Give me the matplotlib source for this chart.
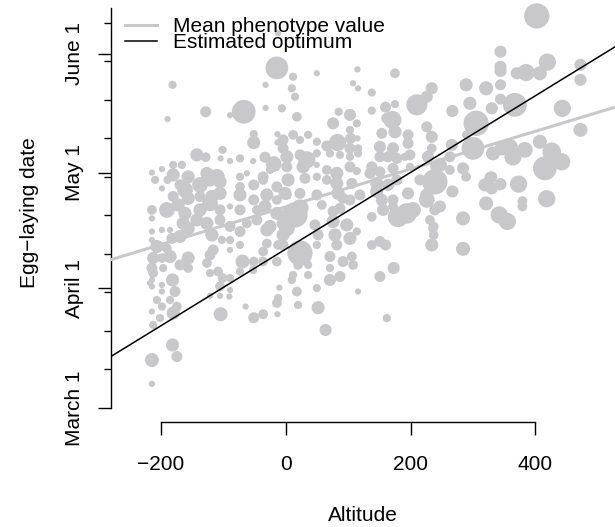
import matplotlib
matplotlib.use("Agg")
import matplotlib.pyplot as plt
import numpy as np

# ---- data (altitude in m, egg-laying day of year, number of broods per point) ----
altitude = [
    -214, -214, -181, -174, -212, -201, -180, -174, -198, -185, -206, -177, -181, -198, -198, -214, -214,
    -156, -156, -169, -185, -198, -212, -214, -212, -196, -206, -190, -182, -169, -156, -185, -198, -214,
    -214, -214, -214, -190, -172, -161, -214, -198, -180, -166, -209, -180, -156, -189, -198, -169, -161,
    -180, -156, -164, -181, -189, -142, -214, -217,
    -128, -89, -67, -128, -101, -104, -89, -73, -126, -110, -73, -62, -137, -121, -105, -73, -137, -118,
    -105, -73, -137, -121, -105, -89, -73, -142, -126, -105, -89, -62, -118, -102, -89, -73, -116, -89,
    -121, -126, -108, -121, -101, -89, -105, -89, -121, -105, -90, -104, -73, -69, -73, -64, -52,
    -51, -36, -36, -30, -14, -12, -4, -30, -51, -51, -13, -13, -4, -52, -33, -19, -36, -25, -51, -36,
    -14, -51, -30, -14, 2, -46, -33, -14, 2, -46, -25, -4, -51, -36, -13, -14, -12, -10, -32, -32, -6,
    -14, -12,
    12, 50, 10, 15, 18, 36, 12, -4, 23, 50, 66, 83, 2, 34, 23, 50, 71, 87, 2, 28, 50, 66, 82, 4, 31, 50,
    66, 82, -1, 23, 50, 84, 15, 23, 2, -4, 23, 20, 36, 12, 36, 10, 18, 20, 50, 52, 64, 47, 52, 50, 58,
    76, 87, 76, 79, 82, 71, 71, 71, 87, 76, 85, 103, 114, 103,
    104, 115, 103, 116, 103, 116, 103, 114, 106, 119, 92, 103, 98, 103, 114, 92, 106, 108, 116, 115,
    108, 116, 138, 175, 138, 160, 175, 171, 162, 175, 154, 151, 172, 151, 164, 178, 196, 196, 191,
    138, 135, 151, 172, 199, 146, 164, 178, 146, 154, 172, 196, 156, 138, 194, 180, 172, 204, 226,
    239, 237, 237, 234, 138, 151, 160, 173, 151, 162, 210, 226, 234, 226, 234, 234, 215, 234, 226,
    228, 247, 263, 239, 231, 236, 199,
    402, 344, 344, 344, 370, 385, 407, 419, 472, 472, 289, 321, 344, 344, 295, 330, 367, 443, 267,
    305, 289, 472, 300, 266, 332, 346, 359, 364, 383, 407, 426, 442, 415, 284, 263, 330, 242, 267,
    289, 319, 330, 328, 344, 373, 418, 379, 379, 321, 342, 355, 284, 284, 247,
]

laying_day = [
    66.2, 72.4, 76.3, 73.3, 81.5, 83.3, 84.6, 86.3, 86.3, 88.0, 88.0, 90.2, 93.2, 91.9, 90.2, 91.5, 93.2,
    98.9, 96.3, 97.1, 99.3, 98.9, 98.9, 96.3, 95.0, 96.3, 101.9, 101.4, 104.0, 104.5, 106.6, 106.2, 106.2, 105.8,
    103.6, 111.4, 109.2, 111.4, 112.7, 110.5, 121.1, 122.0, 123.1, 123.1, 119.2, 120.5, 120.0, 119.2, 117.0, 117.9, 116.6,
    114.9, 114.4, 107.9, 143.9, 135.0, 125.7, 85.0, 92.4,
    136.9, 136.0, 136.9, 125.1, 127.0, 124.8, 124.1, 124.8, 120.9, 120.0, 120.0, 120.9, 117.9, 119.2, 118.7, 117.4, 114.9, 114.9,
    115.7, 115.3, 111.4, 113.1, 111.4, 112.3, 111.4, 108.8, 107.9, 108.8, 107.1, 107.9, 104.9, 103.6, 103.6, 105.8, 101.0, 101.0,
    99.7, 97.6, 95.4, 95.0, 93.7, 93.7, 91.5, 90.6, 89.1, 89.1, 88.9, 84.3, 95.4, 98.0, 102.3, 86.3, 95.8,
    98.0, 98.0, 100.6, 102.7, 98.0, 102.3, 104.9, 106.2, 131.1, 128.9, 131.1, 128.9, 127.4, 124.1, 125.1, 123.3, 120.0, 121.8, 117.9, 119.2,
    117.4, 114.0, 115.3, 114.0, 115.3, 111.4, 112.3, 110.5, 110.5, 108.8, 107.1, 107.9, 83.4, 84.3, 84.3, 87.2, 88.5, 91.2, 143.9, 137.9, 137.8,
    148.3, 157.3,
    146.0, 146.9, 143.0, 140.8, 135.6, 130.9, 130.9, 129.6, 129.6, 129.1, 128.0, 128.9, 125.2, 124.4, 125.7, 126.1, 126.1, 125.7, 122.6, 122.6, 123.1, 121.8, 120.9, 119.2, 119.6, 120.0,
    119.2, 118.3, 115.7, 115.7, 115.3, 115.7, 110.1, 111.9, 106.6, 102.3, 100.2, 97.1, 97.1, 94.5, 94.5, 93.2, 90.2, 86.7, 91.1, 86.0, 80.2, 107.5, 104.9, 102.3, 112.7,
    111.0, 111.8, 108.4, 104.9, 102.3, 99.3, 96.3, 93.2, 94.1, 133.9, 136.9, 136.1, 133.9, 132.2,
    130.0, 130.0, 127.4, 127.4, 125.2, 126.1, 122.6, 121.5, 118.3, 115.3, 114.4, 114.0, 107.5, 104.0, 105.8, 98.0, 99.3, 97.1, 90.2, 147.9,
    144.3, 143.0, 141.9, 146.9, 137.2, 138.1, 138.9, 134.8, 135.2, 131.7, 131.3, 127.8, 127.4, 125.2, 125.2, 124.8, 130.9, 128.7, 125.2,
    122.6, 120.9, 121.3, 122.2, 122.6, 118.3, 117.9, 119.2, 116.2, 114.0, 112.3, 115.7, 111.4, 109.6, 110.5, 109.6, 114.0, 111.4, 114.0,
    111.4, 107.1, 104.9, 102.3, 102.3, 103.2, 102.3, 96.3, 94.1, 83.3, 138.7, 140.8, 143.0, 133.0, 130.4, 127.4, 119.2, 120.0, 115.3,
    125.2, 123.1, 121.8, 118.7, 108.8, 106.6, 125.7,
    161.8, 152.5, 148.6, 147.5, 146.9, 147.1, 146.9, 149.8, 149.1, 145.2, 143.9, 143.0, 143.9, 140.2, 139.1, 137.8, 138.7, 137.8, 137.1,
    133.9, 130.9, 132.2, 127.4, 128.3, 126.1, 127.4, 127.8, 125.2, 127.0, 129.1, 126.5, 123.9, 122.2, 122.2, 125.2, 120.0, 122.6, 116.2,
    120.0, 117.9, 117.0, 119.8, 118.1, 118.1, 114.3, 113.7, 112.3, 113.1, 110.1, 108.4, 109.2, 101.3, 112.3,
]

n_broods = [
    1, 7, 6, 4, 2, 2, 6, 3, 2, 2, 2, 4, 6, 1, 1, 1, 1,
    6, 3, 4, 6, 3, 5, 4, 3, 2, 6, 3, 4, 6, 6, 1, 1, 1,
    1, 3, 1, 9, 6, 6, 1, 1, 2, 2, 2, 6, 6, 2, 1, 4, 9,
    4, 6, 6, 2, 1, 6, 1, 1,
    4, 1, 22, 3, 2, 1, 1, 2, 6, 9, 2, 1, 9, 6, 6, 3, 4, 6,
    6, 6, 6, 9, 4, 1, 4, 6, 6, 4, 4, 3, 6, 2, 2, 4, 4, 1,
    4, 3, 3, 2, 3, 2, 3, 1, 1, 1, 1, 7, 2, 7, 2, 1, 2,
    3, 3, 3, 3, 3, 3, 6, 6, 2, 6, 1, 1, 4, 1, 4, 9, 4, 2, 4, 3,
    4, 4, 6, 3, 3, 3, 6, 6, 4, 4, 6, 6, 4, 3, 1, 3, 2, 1, 1, 1, 2,
    20, 1,
    2, 1, 2, 2, 3, 2, 3, 4, 2, 2, 4, 11, 6, 11, 4, 2, 2, 2, 4, 6, 1, 3, 6, 6, 4, 2,
    3, 6, 6, 4, 4, 6, 25, 11, 9, 4, 25, 3, 2, 2, 2, 2, 3, 2, 2, 6, 5, 4, 4, 2, 3,
    4, 4, 6, 6, 4, 4, 2, 5, 4, 5, 2, 5, 2, 2,
    4, 1, 4, 2, 2, 2, 4, 2, 4, 4, 4, 4, 6, 6, 2, 4, 3, 3, 1, 1,
    1, 1, 2, 3, 2, 4, 2, 12, 4, 6, 4, 5, 5, 4, 4, 4, 4, 4, 2,
    4, 4, 4, 4, 2, 6, 5, 4, 6, 5, 3, 5, 5, 3, 16, 16, 4, 9, 9,
    4, 3, 3, 6, 3, 4, 4, 5, 4, 2, 17, 5, 5, 4, 5, 3, 4, 6, 6,
    5, 7, 3, 25, 3, 3, 4,
    25, 5, 5, 5, 5, 11, 7, 11, 5, 5, 6, 7, 4, 4, 6, 5, 22, 11, 5,
    25, 2, 7, 20, 5, 7, 7, 9, 11, 9, 7, 13, 11, 22, 5, 4, 4, 6, 5,
    3, 6, 5, 5, 5, 11, 11, 3, 3, 7, 11, 11, 7, 7, 5,
]

month_days = [60, 91, 121, 152]
month_labels = ["March 1", "April 1", "May 1", "June 1"]
ten_day_ticks = list(range(60, 161, 10))
alt_ticks = [-200, 0, 200, 400]

# fitted lines: day = intercept + slope * altitude
mean_intercept, mean_slope = 112.2, 0.0491
opt_intercept, opt_slope = 101.2, 0.0997

GRAY = "#c8c8ca"

plt.rcParams["font.family"] = ["Liberation Sans", "DejaVu Sans"]
plt.rcParams["font.size"] = 15

fig = plt.figure(figsize=(6.15, 5.27), dpi=100)
ax = fig.add_axes([111 / 615, 105 / 527, 504 / 615, 422 / 527])
ax.set_xlim(-279.5, 527.3)
ax.set_ylim(56.3, 165.94)

alt = np.array(altitude)
day = np.array(laying_day)
n = np.array(n_broods)
# marker radius grows with sqrt of brood count
radius_pt = 1.9 * (1.0 + 0.9 * (np.sqrt(n) - 1.0)) + 0.35
ax.scatter(alt, day, s=(2 * radius_pt) ** 2, color=GRAY, linewidths=0, zorder=2)

xs = np.array(ax.get_xlim())
ax.plot(xs, mean_intercept + mean_slope * xs, color=GRAY, lw=2.2, zorder=3)
ax.plot(xs, opt_intercept + opt_slope * xs, color="black", lw=1.1, zorder=4)
ax.set_xlim(-279.5, 527.3)

# axes styling (R base look)
for s in ["top", "right"]:
    ax.spines[s].set_visible(False)
ax.spines["left"].set_bounds(60, 163.9)
ax.spines["bottom"].set_bounds(-200, 400)
ax.spines["left"].set_linewidth(1.0)
ax.spines["bottom"].set_linewidth(1.0)

ax.set_xticks(alt_ticks, [str(v).replace("-", "\u2212") for v in alt_ticks])
ax.tick_params(axis="x", length=9.4, width=1.0, pad=14, labelsize=15)

ax.set_yticks(month_days, month_labels, rotation=90, va="center")
ax.set_yticks(ten_day_ticks, minor=True)
ax.tick_params(axis="y", which="major", length=9.4, width=1.0, pad=10, labelsize=15)
ax.tick_params(axis="y", which="minor", length=5, width=1.0)

# legend drawn by hand to mimic the tight R legend
ax.plot([0.0278, 0.0913], [0.9408, 0.9408], transform=ax.transAxes, color=GRAY, lw=2.2, clip_on=False)
ax.plot([0.0278, 0.0913], [0.9028, 0.9028], transform=ax.transAxes, color="black", lw=1.1, clip_on=False)
ax.text(0.123, 0.9249, "Mean phenotype value", transform=ax.transAxes, va="baseline", ha="left", fontsize=15)
ax.text(0.123, 0.8855, "Estimated optimum", transform=ax.transAxes, va="baseline", ha="left", fontsize=15)

fig.text(363 / 615, (527 - 506) / 527, "Altitude", ha="center", va="top", fontsize=15)
fig.text(30 / 615, (527 - 213) / 527, "Egg\u2212laying date", ha="center", va="center", rotation=90, fontsize=15)

fig.savefig("out.png", dpi=100)
